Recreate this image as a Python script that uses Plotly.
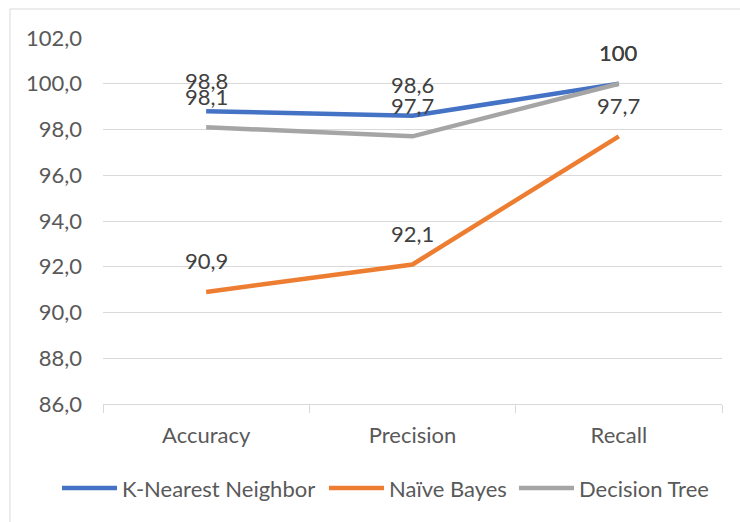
import plotly.graph_objects as go

categories = ["Accuracy", "Precision", "Recall"]
knn = [98.8, 98.6, 100]
nb = [90.9, 92.1, 97.7]
dt = [98.1, 97.7, 100]
series_names = ["K-Nearest Neighbor", "Naïve Bayes", "Decision Tree"]
colors = ["#4472C4", "#ED7D31", "#A5A5A5"]
y_ticks = [86, 88, 90, 92, 94, 96, 98, 100, 102]


def fmt(v):
    if float(v).is_integer():
        return str(int(v))
    return f"{v:.1f}".replace(".", ",")


FONT = "Lato"
FS = 22
# plot-area geometry in pixels (for converting legend decoration to paper coords)
L, R, T, B = 103, 722, 38, 404
PW, PH = R - L, B - T


def px(x):
    return (x - L) / PW


def py(y):
    return (B - y) / PH


fig = go.Figure()
annotations = []
for name, vals, col in zip(series_names, [knn, nb, dt], colors):
    fig.add_trace(go.Scatter(
        x=categories, y=vals, name=name, mode="lines",
        line=dict(color=col, width=4.5, shape="linear"),
        hoverinfo="skip", showlegend=False,
    ))
    for c, v in zip(categories, vals):
        annotations.append(dict(
            x=c, y=v, xref="x", yref="y", text=fmt(v), showarrow=False,
            yshift=31, yanchor="middle", xanchor="center",
            font=dict(family=FONT, size=FS, color="#404040"),
        ))

# custom legend (decoration)
legend_line_x = [(62, 117), (329, 384), (519, 574)]
shapes = [dict(
    type="rect", xref="paper", yref="paper",
    x0=px(10), x1=px(760), y0=py(560), y1=py(9),
    line=dict(color="#D9D9D9", width=1), fillcolor="rgba(0,0,0,0)",
    layer="below",
)]
for (x0, x1), name, col in zip(legend_line_x, series_names, colors):
    shapes.append(dict(
        type="line", xref="paper", yref="paper",
        x0=px(x0), x1=px(x1), y0=py(488), y1=py(488),
        line=dict(color=col, width=4.5),
    ))
    annotations.append(dict(
        x=px(x1 + 3), y=py(488), xref="paper", yref="paper", text=name,
        showarrow=False, xanchor="left", yanchor="middle",
        font=dict(family=FONT, size=FS, color="#595959"),
    ))

fig.update_layout(
    width=740, height=522,
    margin=dict(l=L, r=740 - R, t=T, b=522 - B),
    paper_bgcolor="white", plot_bgcolor="white",
    font=dict(family=FONT, size=FS, color="#595959"),
    showlegend=False,
    annotations=annotations,
    shapes=shapes,
)

fig.update_xaxes(
    type="category", showgrid=False, showline=True, linecolor="#D9D9D9",
    linewidth=1, ticks="outside", ticklen=8, tickcolor="#D9D9D9",
    tickson="boundaries", range=[-0.5, 2.5], fixedrange=True,
    tickfont=dict(family=FONT, size=FS, color="#595959"),
    ticklabelstandoff=12,
)
fig.update_yaxes(
    range=[86, 102], tickvals=y_ticks,
    ticktext=[f"{t:.1f}".replace(".", ",") for t in y_ticks],
    showgrid=True, gridcolor="#D9D9D9", gridwidth=1,
    zeroline=False, showline=False, ticks="", fixedrange=True,
    tickfont=dict(family=FONT, size=FS, color="#595959"),
    ticklabelstandoff=20,
)

fig.write_html("out.html", config={"displayModeBar": False})
